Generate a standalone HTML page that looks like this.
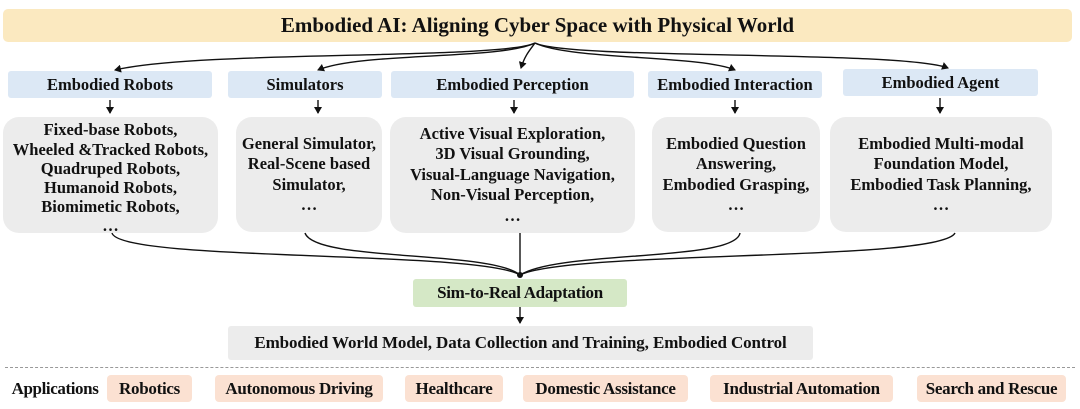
<!DOCTYPE html>
<html><head><meta charset="utf-8"><style>
body{margin:0;width:1080px;height:409px;background:#fff;position:relative;overflow:hidden;font-family:"Liberation Serif",serif;font-weight:bold;color:#111}
.b{position:absolute;display:flex;align-items:center;justify-content:center;text-align:center;box-sizing:border-box;white-space:nowrap}
.t{background:#fbe9c0;border-radius:5px;font-size:21px}
.h{background:#dce8f5;border-radius:3px;font-size:16.5px}
.c{background:#ececec;border-radius:16px;font-size:16.5px;line-height:20.5px}
.p{background:#fbe1d2;border-radius:4px;font-size:17px;letter-spacing:-0.3px}
svg{position:absolute;left:0;top:0}
</style></head><body>
<div class="b t" style="left:3px;top:9px;width:1069px;height:33px">Embodied AI: Aligning Cyber Space with Physical World</div>
<div class="b h" style="left:8px;top:71px;width:204px;height:27px">Embodied Robots</div>
<div class="b h" style="left:228px;top:71px;width:154px;height:27px">Simulators</div>
<div class="b h" style="left:391px;top:71px;width:243px;height:27px">Embodied Perception</div>
<div class="b h" style="left:648px;top:71px;width:174px;height:27px">Embodied Interaction</div>
<div class="b h" style="left:843px;top:69px;width:195px;height:27px">Embodied Agent</div>
<div class="b c" style="left:3px;top:117px;width:215px;height:116px;line-height:19.2px;padding-top:6px">Fixed-base Robots,<br>Wheeled &amp;Tracked Robots,<br>Quadruped Robots,<br>Humanoid Robots,<br>Biomimetic Robots,<br>…</div>
<div class="b c" style="left:236px;top:117px;width:146px;height:115px">General Simulator,<br>Real-Scene based<br>Simulator,<br>…</div>
<div class="b c" style="left:390px;top:117px;width:245px;height:116px">Active Visual Exploration,<br>3D Visual Grounding,<br>Visual-Language Navigation,<br>Non-Visual Perception,<br>…</div>
<div class="b c" style="left:652px;top:117px;width:168px;height:115px">Embodied Question<br>Answering,<br>Embodied Grasping,<br>…</div>
<div class="b c" style="left:830px;top:117px;width:222px;height:115px">Embodied Multi-modal<br>Foundation Model,<br>Embodied Task Planning,<br>…</div>
<div class="b" style="left:413px;top:279px;width:214px;height:28px;background:#d5e8c6;border-radius:3px;font-size:17px;letter-spacing:-0.3px">Sim-to-Real Adaptation</div>
<div class="b" style="left:228px;top:326px;width:585px;height:34px;background:#ececec;border-radius:3px;font-size:17px;letter-spacing:-0.1px">Embodied World Model, Data Collection and Training, Embodied Control</div>
<div style="position:absolute;left:5px;top:367px;width:1070px;border-top:1.5px dashed #999"></div>
<div class="b" style="left:6px;top:376px;width:98px;height:26px;font-size:17px;letter-spacing:-0.4px">Applications</div>
<div class="b p" style="left:107px;top:375px;width:85px;height:27px">Robotics</div>
<div class="b p" style="left:215px;top:375px;width:168px;height:27px">Autonomous Driving</div>
<div class="b p" style="left:405px;top:375px;width:98px;height:27px">Healthcare</div>
<div class="b p" style="left:523px;top:375px;width:165px;height:27px">Domestic Assistance</div>
<div class="b p" style="left:710px;top:375px;width:183px;height:27px">Industrial Automation</div>
<div class="b p" style="left:917px;top:375px;width:149px;height:27px">Search and Rescue</div>
<svg width="1080" height="409">
<defs><marker id="a" markerWidth="8" markerHeight="8" refX="6" refY="4" orient="auto" markerUnits="userSpaceOnUse"><path d="M0,0 L7,4 L0,8 z" fill="#111"/></marker></defs>
<g fill="none" stroke="#111" stroke-width="1.4">
<path d="M535,43 C500,60 200,50 115,70" marker-end="url(#a)"/>
<path d="M535,43 C500,60 360,52 318,70" marker-end="url(#a)"/>
<path d="M535,43 C530,50 525,55 521,68" marker-end="url(#a)"/>
<path d="M535,43 C570,60 700,55 735,70" marker-end="url(#a)"/>
<path d="M535,43 C570,60 900,50 948,68" marker-end="url(#a)"/>
<path d="M110,100 V113" marker-end="url(#a)"/>
<path d="M318,100 V113" marker-end="url(#a)"/>
<path d="M514,100 V113" marker-end="url(#a)"/>
<path d="M735,100 V113" marker-end="url(#a)"/>
<path d="M940,98 V113" marker-end="url(#a)"/>
<path d="M112,233 C120,262 480,250 520,275"/>
<path d="M305,233 C315,262 490,250 520,275"/>
<path d="M520,233 V275"/>
<path d="M740,233 C735,262 560,250 520,275"/>
<path d="M955,233 C940,262 570,250 520,275"/>
<path d="M520,307 V323" marker-end="url(#a)"/>
</g>
<circle cx="520" cy="275" r="3" fill="#111"/>
</svg>
</body></html>
